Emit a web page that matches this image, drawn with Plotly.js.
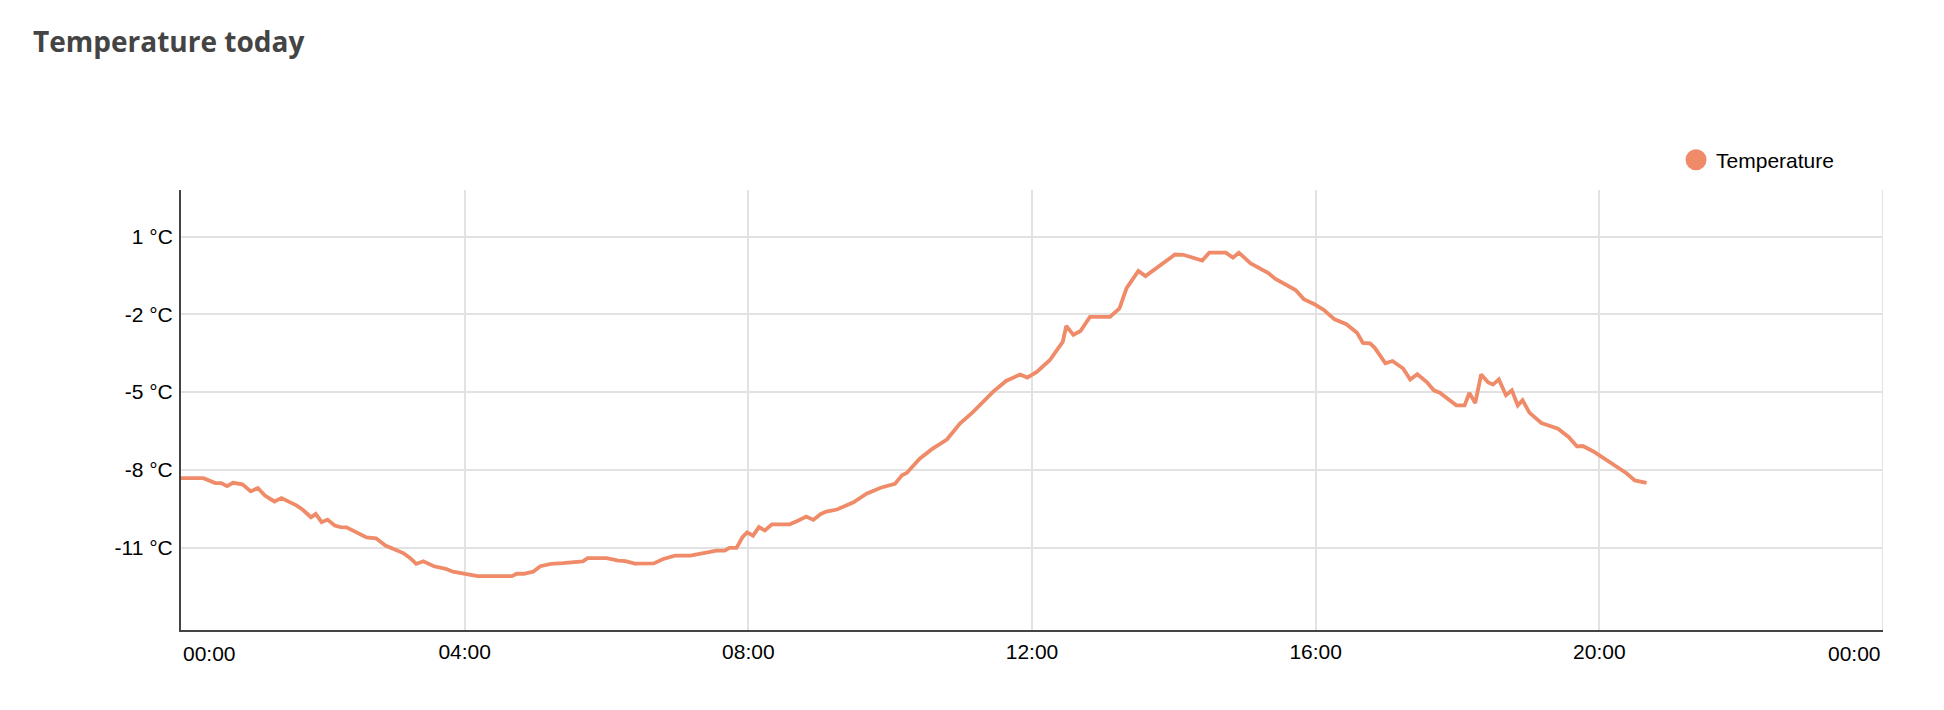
<!DOCTYPE html>
<html><head><meta charset="utf-8">
<script src="https://cdn.plot.ly/plotly-3.0.1.min.js"></script>
<style>html,body{margin:0;padding:0;background:#fff}#chart{width:1944px;height:710px}</style>
</head><body><div id="chart"></div>
<script>
const chartTitle = 'Temperature today';
const seriesName = 'Temperature';
const times = ['00:00','00:19','00:29','00:34','00:39','00:44','00:52','00:59','01:05','01:11','01:19','01:25','01:38','01:43','01:50','01:54','01:59','02:04','02:10','02:15','02:20','02:29','02:37','02:45','02:53','03:08','03:14','03:19','03:25','03:34','03:44','03:50','04:00','04:11','04:40','04:44','04:50','04:58','05:04','05:13','05:23','05:34','05:40','05:44','06:00','06:10','06:16','06:24','06:40','06:48','06:58','07:11','07:25','07:33','07:40','07:44','07:50','07:55','07:59','08:04','08:09','08:14','08:20','08:35','08:41','08:49','08:55','09:01','09:06','09:15','09:29','09:40','09:52','10:04','10:10','10:14','10:25','10:35','10:48','10:59','11:10','11:27','11:38','11:50','11:56','12:04','12:15','12:26','12:29','12:35','12:41','12:49','13:06','13:14','13:20','13:30','13:36','13:46','13:55','14:01','14:08','14:24','14:30','14:44','14:50','14:55','15:05','15:20','15:26','15:43','15:50','15:59','16:07','16:16','16:26','16:35','16:40','16:46','16:50','16:59','17:05','17:14','17:20','17:26','17:34','17:40','17:45','17:54','17:59','18:06','18:10','18:15','18:20','18:26','18:30','18:35','18:41','18:46','18:51','18:55','19:01','19:11','19:25','19:34','19:41','19:46','19:55','20:23','20:30','20:40'];
const temps = [-8.32,-8.32,-8.51,-8.51,-8.63,-8.50,-8.56,-8.83,-8.70,-8.99,-9.22,-9.09,-9.38,-9.54,-9.83,-9.70,-10.02,-9.92,-10.15,-10.21,-10.22,-10.43,-10.61,-10.64,-10.92,-11.21,-11.41,-11.63,-11.53,-11.72,-11.82,-11.93,-12.02,-12.10,-12.10,-12.01,-12.01,-11.93,-11.72,-11.63,-11.60,-11.54,-11.53,-11.41,-11.41,-11.50,-11.52,-11.62,-11.61,-11.44,-11.31,-11.31,-11.21,-11.12,-11.12,-11.01,-11.01,-10.60,-10.41,-10.54,-10.21,-10.34,-10.10,-10.10,-9.98,-9.80,-9.93,-9.71,-9.61,-9.53,-9.25,-8.92,-8.69,-8.54,-8.21,-8.12,-7.57,-7.21,-6.83,-6.21,-5.77,-4.99,-4.57,-4.32,-4.44,-4.22,-3.77,-3.06,-2.45,-2.79,-2.64,-2.10,-2.10,-1.77,-0.99,-0.32,-0.52,-0.19,0.08,0.31,0.30,0.08,0.38,0.38,0.19,0.38,-0.03,-0.41,-0.63,-1.06,-1.41,-1.61,-1.83,-2.19,-2.38,-2.71,-3.10,-3.12,-3.29,-3.89,-3.80,-4.09,-4.51,-4.31,-4.61,-4.93,-5.02,-5.31,-5.51,-5.51,-5.03,-5.42,-4.32,-4.63,-4.71,-4.51,-5.12,-4.93,-5.51,-5.31,-5.80,-6.19,-6.41,-6.73,-7.09,-7.08,-7.29,-8.13,-8.41,-8.50];
const xTickHours = [0,4,8,12,16,20,24];
const xTickLabels = ['00:00','04:00','08:00','12:00','16:00','20:00','00:00'];
const yTickVals = [-11,-8,-5,-2,1];
const yTickLabels = ['-11 °C','-8 °C','-5 °C','-2 °C','1 °C'];

const lineColor = '#ef8b68';
const gridColor = '#e2e2e2';
const tickFont = {family: 'Liberation Sans, Arial, sans-serif', size: 21, color: '#000'};

function toHours(s){const p=s.split(':').map(Number);return p[0]+p[1]/60;}
const xs = times.map(toHours);

const traces = [
  {x: xs, y: temps, type: 'scatter', mode: 'lines', name: seriesName, showlegend: false,
   line: {color: lineColor, width: 3.8, shape: 'linear'}, hoverinfo: 'x+y'},
  {x: [null], y: [null], type: 'scatter', mode: 'markers', name: seriesName,
   marker: {color: lineColor, size: 24, symbol: 'circle', line: {color: lineColor, width: 5}}}
];

const lastI = xTickHours.length - 1;
const annotations = [
  {x: xTickHours[0], xref: 'x', y: 0, yref: 'paper', yanchor: 'top', xanchor: 'left', yshift: -10,
   text: xTickLabels[0], showarrow: false, font: tickFont},
  {x: xTickHours[lastI], xref: 'x', y: 0, yref: 'paper', yanchor: 'top', xanchor: 'right', yshift: -10,
   text: xTickLabels[lastI], showarrow: false, font: tickFont}
];

// gridline at the right end of the x axis (Plotly drops edge gridlines)
const shapes = [
  {type: 'line', xref: 'x', yref: 'paper', x0: xTickHours[lastI], x1: xTickHours[lastI], y0: 0, y1: 1,
   line: {color: gridColor, width: 2}, layer: 'below'}
];

const layout = {
  width: 1944, height: 710,
  margin: {l: 181, r: 61, t: 190, b: 80, pad: 0},
  paper_bgcolor: '#fff', plot_bgcolor: '#fff',
  title: {text: chartTitle, x: 0.017, xref: 'container', xanchor: 'left', y: 0.941, yref: 'container', yanchor: 'middle',
    font: {family: 'Open Sans, sans-serif', size: 28, weight: 700, color: '#444'}},
  showlegend: true,
  legend: {orientation: 'h', x: 0.8784, xanchor: 'left', y: 1.068, yanchor: 'middle',
    font: {family: 'Liberation Sans, Arial, sans-serif', size: 21, color: '#000'}, bgcolor: 'rgba(0,0,0,0)'},
  xaxis: {range: [xTickHours[0], xTickHours[lastI]], tickmode: 'array', tickvals: xTickHours,
    ticktext: xTickLabels.map((t,i)=> (i===0||i===lastI) ? '' : t),
    showgrid: true, gridcolor: gridColor, gridwidth: 2, zeroline: false, ticklabelstandoff: 2,
    showline: true, linecolor: '#444', linewidth: 2, ticks: '', tickfont: tickFont, fixedrange: true},
  yaxis: {range: [-14.18, 2.8], tickmode: 'array', tickvals: yTickVals, ticktext: yTickLabels,
    showgrid: true, gridcolor: gridColor, gridwidth: 2, zeroline: false, ticklabelstandoff: 2,
    showline: true, linecolor: '#444', linewidth: 2, ticks: '', tickfont: tickFont, fixedrange: true},
  annotations: annotations,
  shapes: shapes
};

Plotly.newPlot('chart', traces, layout, {displayModeBar: false, staticPlot: true});
</script>
</body></html>
